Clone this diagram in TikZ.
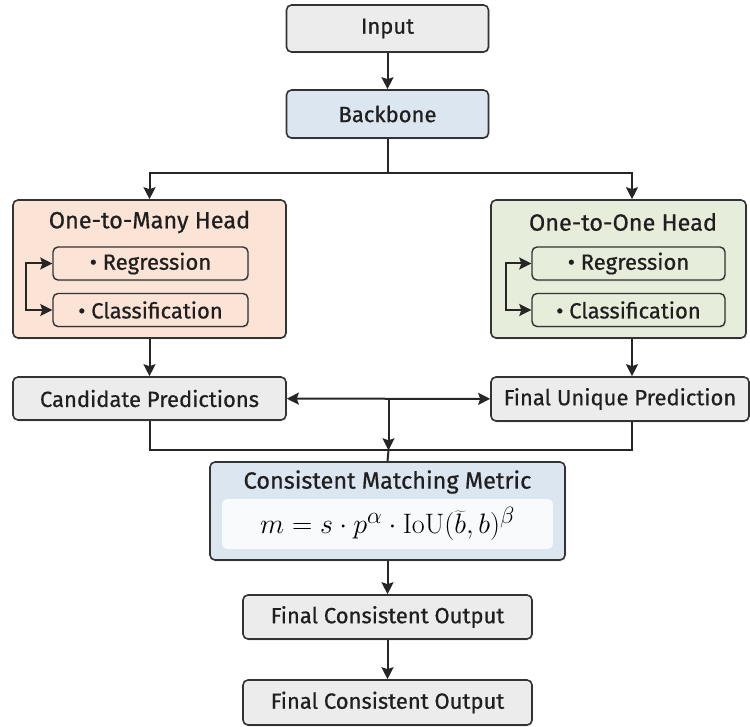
\documentclass[tikz,border=0pt]{standalone}
\usepackage{graphicx}
\usepackage[no-math]{fontspec}
\setmainfont{Fira Sans}[FakeBold=0.6]
\usetikzlibrary{arrows.meta,shadows}

\definecolor{boxline}{HTML}{333333}
\definecolor{grayfill}{HTML}{ECECEC}
\definecolor{bluefill}{HTML}{DCE6F0}
\definecolor{peachfill}{HTML}{FBE3D6}
\definecolor{greenfill}{HTML}{E6EDDA}
\definecolor{formfill}{HTML}{F8FAFC}

\tikzset{
  blk/.style={draw=boxline,line width=1.6pt,rounded corners=5pt,inner sep=0pt,
    text=black!88,font=\fontsize{22}{26}\selectfont,
    drop shadow={opacity=0.18,shadow xshift=1pt,shadow yshift=-1.5pt}},
  sub/.style={blk,line width=1.4pt,minimum width=195pt,minimum height=33pt},
  ttl/.style={text=black!88,font=\fontsize{23.5}{27}\selectfont},
  wire/.style={line width=2pt,draw=black!85},
}

\begin{document}
\begin{tikzpicture}[x=1pt,y=-1pt,>={Stealth[length=12pt,width=12pt,inset=2pt]}]
    \useasboundingbox (0,0) rectangle (750,727);

    \node[blk,fill=grayfill,minimum width=202pt,minimum height=47pt] (input) at (387.5,28.5) {Input};
    \node[blk,fill=bluefill,minimum width=202pt,minimum height=48pt] (backbone) at (387.5,114) {Backbone};

    % the two heads
    \node[blk,fill=peachfill,minimum width=273pt,minimum height=138pt] (otm) at (149.5,269) {};
    \node[ttl] (otmtitle) at (149.5,222) {One-to-Many Head};
    \node[sub,fill=peachfill] (otmreg) at (150.5,263.5) {• Regression};
    \node[sub,fill=peachfill] (otmcls) at (150.5,310) {• Classification};

    \node[blk,fill=greenfill,minimum width=255pt,minimum height=138pt] (oto) at (618.5,269) {};
    \node[ttl] (ototitle) at (623,222) {One-to-One Head};
    \node[sub,fill=greenfill,minimum width=193pt] (otoreg) at (628.5,263.5) {• Regression};
    \node[sub,fill=greenfill,minimum width=193pt] (otocls) at (628.5,310) {• Classification};

    \node[blk,fill=grayfill,minimum width=273pt,minimum height=43pt] (cand) at (149.5,398.5) {Candidate Predictions};
    \node[blk,fill=grayfill,minimum width=258pt,minimum height=44pt] (unique) at (620,399) {Final Unique Prediction};

    % matching metric
    \node[blk,fill=bluefill,minimum width=355pt,minimum height=98pt] (cmm) at (387.5,511) {};
    \node[ttl] (cmmtitle) at (387.5,482) {Consistent Matching Metric};
    \node[rounded corners=5pt,fill=formfill,minimum width=331pt,minimum height=50pt,
      font=\fontsize{24.88}{30}\selectfont] (formula) at (387.5,524)
      {\scalebox{1.13}{$m = s\cdot p^{\alpha}\cdot \mathrm{IoU}(\widetilde{b},b)^{\beta}$}};

    \node[blk,fill=grayfill,minimum width=289pt,minimum height=44pt] (out1) at (387.5,617) {Final Consistent Output};
    \node[blk,fill=grayfill,minimum width=289pt,minimum height=45pt] (out2) at (387.5,702.5) {Final Consistent Output};

    \draw[wire,->] (input) -- (backbone);
    \draw[wire,->] (backbone.south) -- ++(0,34) -| (otm.north);
    \draw[wire,->] (backbone.south) -- ++(0,34) -| ([xshift=13.5pt]oto.north);

    \draw[wire,<->] (otmreg.west) -- ++(-26,0) |- (otmcls.west);
    \draw[wire,<->] (otoreg.west) -- ++(-25,0) |- (otocls.west);

    \draw[wire,->] (otm) -- (cand);
    \draw[wire,->] ([xshift=13.5pt]oto.south) -- ([xshift=12pt]unique.north);

    \draw[wire,<->] (cand) -- coordinate[pos=0.5] (mid) (unique);
    \draw[wire] (cand.south) -- ++(0,29.5) coordinate (join) -| ([xshift=12pt]unique.south);
    \draw[wire,->] (mid) -- (mid |- join);
    \draw[wire] (mid |- join) -- (cmm.north);

    \draw[wire,->] (cmm) -- (out1);
    \draw[wire,->] (out1) -- (out2);
\end{tikzpicture}
\end{document}
